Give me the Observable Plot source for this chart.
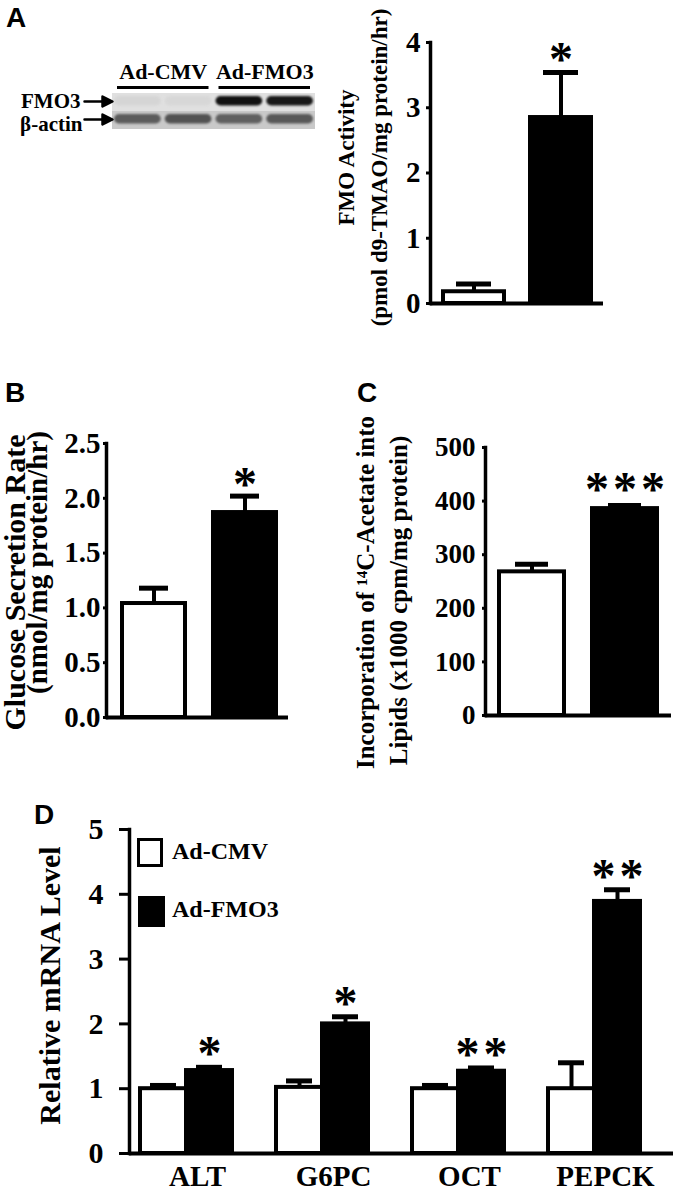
<!DOCTYPE html>
<html>
<head>
<meta charset="utf-8">
<script src="https://cdn.jsdelivr.net/npm/d3@7"></script>
<script src="https://cdn.jsdelivr.net/npm/@observablehq/plot@0.6"></script>
<style>
  body { margin: 0; background: #fff; }
  #fig { position: relative; width: 677px; height: 1190px; overflow: hidden; background: #fff;
         font-family: 'Liberation Serif', 'Times New Roman', serif; font-weight: bold; color: #000; }
  .letter { position: absolute; font-family: 'Liberation Sans', Arial, sans-serif; font-weight: bold;
            font-size: 28px; line-height: 1; }
  .leg { position: absolute; font-size: 24px; line-height: 1; white-space: nowrap; }
  .box { position: absolute; box-sizing: border-box; }
</style>
</head>
<body>
<div id="fig"></div>
<script>
// ---------------- data ----------------
const groups = ["Ad-CMV", "Ad-FMO3"];

// Panel A: western blot (relative band intensity, 0 = blank, 1 = saturated)
const blotProteins = ["FMO3", "β-actin"];
const blotLanes = [0, 1, 2, 3];
const blotFMO3 = [0.05, 0.04, 0.97, 0.94];
const blotActin = [0.62, 0.66, 0.60, 0.64];
const blotGroupStart = [0, 2];
const blotGroupEnd = [2, 4];

// Panel A: FMO activity
const fmoTicks = [0, 1, 2, 3, 4];
const fmoMean = [0.18, 2.85];
const fmoSem = [0.12, 0.69];
const fmoSig = ["", "*"];

// Panel B: glucose secretion
const glucoseTicks = [0, 0.5, 1.0, 1.5, 2.0, 2.5];
const glucoseMean = [1.04, 1.87];
const glucoseSem = [0.14, 0.15];
const glucoseSig = ["", "*"];

// Panel C: 14C-acetate incorporation
const acetateTicks = [0, 100, 200, 300, 400, 500];
const acetateMean = [268, 386];
const acetateSem = [14, 6];
const acetateSig = ["", "***"];

// Panel D: relative mRNA
const genes = ["ALT", "G6PC", "OCT", "PEPCK"];
const mrnaTicks = [0, 1, 2, 3, 4, 5];
const mrnaCMV = [1.0, 1.02, 1.0, 1.0];
const mrnaCMVSem = [0.05, 0.10, 0.05, 0.40];
const mrnaFMO3 = [1.28, 2.0, 1.27, 3.89];
const mrnaFMO3Sem = [0.05, 0.11, 0.05, 0.18];
const mrnaSig = ["*", "*", "**", "**"];

// ---------------- helpers ----------------
const SERIF = "'Liberation Serif', 'Times New Roman', serif";
const fig = document.getElementById("fig");
const baseStyle = {fontFamily: SERIF, fontWeight: "bold", color: "black", background: "transparent", overflow: "visible"};
const stars = s => s.split("").join("\u200A");
const STAR_SIZE = 48;

function place(el, left, top) {
  el.style.position = "absolute";
  el.style.left = left + "px";
  el.style.top = top + "px";
  fig.appendChild(el);
  return el;
}
function html(tag, cls, text, css) {
  const el = document.createElement(tag);
  el.className = cls;
  if (text) el.textContent = text;
  Object.assign(el.style, css);
  fig.appendChild(el);
  return el;
}

function twoBarPanel(cfg) {
  const rows = groups.map((g, i) => ({group: g, mean: cfg.mean[i], sem: cfg.sem[i], sig: cfg.sig[i]}));
  return Plot.plot({
    width: cfg.width, height: cfg.height,
    marginLeft: cfg.mL, marginRight: cfg.mR, marginTop: cfg.mT, marginBottom: cfg.mB,
    style: baseStyle,
    x: {domain: groups, axis: null, paddingInner: cfg.padIn, paddingOuter: cfg.padOut, align: cfg.align ?? 0.5},
    y: {domain: [0, d3.max(cfg.ticks)], axis: null},
    color: {domain: groups, range: ["white", "black"]},
    marks: [
      Plot.barY(rows, {x: "group", y: "mean", fill: "group", stroke: "black", strokeWidth: 4}),
      Plot.ruleX(rows, {x: "group", y1: "mean", y2: d => d.mean + d.sem, strokeWidth: 4}),
      Plot.tickY(rows, {x: "group", y: d => d.mean + d.sem, strokeWidth: 5, inset: cfg.capInset}),
      Plot.text(rows.filter(d => d.sig), {x: "group", y: d => d.mean + d.sem, text: d => stars(d.sig),
        fontSize: STAR_SIZE, lineAnchor: "bottom", dy: cfg.starDy}),
      Plot.ruleY([0], {strokeWidth: 4}),
      Plot.frame({anchor: "left", strokeWidth: 3.5}),
      Plot.axisY({ticks: cfg.ticks, tickFormat: cfg.fmt, tickSize: cfg.tickSize, tickPadding: cfg.tickPadding,
        fontSize: cfg.tickFont, strokeWidth: 3, label: null}),
      ...cfg.labels.map(l => Plot.text([l.text], {text: d => d, frameAnchor: "left", textAnchor: "middle",
        rotate: -90, fontSize: l.size, dx: l.dx, dy: l.dy}))
    ]
  });
}

// ---------------- Panel A: blot ----------------
const blotRows = blotProteins.flatMap((p, r) =>
  blotLanes.map((lane, i) => ({protein: p, lane, intensity: (r === 0 ? blotFMO3 : blotActin)[i]})));
const blotGroupRows = groups.map((g, i) => ({name: g, from: blotGroupStart[i], to: blotGroupEnd[i]}));
const arrowShape = {
  draw(ctx, l) {
    const h = 10, w = 5;
    ctx.moveTo(0, 0);
    ctx.lineTo(0, -l + h);
    ctx.moveTo(-w, -l + h);
    ctx.lineTo(0, -l);
    ctx.lineTo(w, -l + h);
    ctx.closePath();
  }
};
const blot = Plot.plot({
  width: 315, height: 84, marginLeft: 112, marginRight: 0, marginTop: 18, marginBottom: 10,
  style: baseStyle,
  x: {domain: [0, blotLanes.length], axis: null},
  y: {domain: ["header", ...blotProteins], axis: null, paddingInner: 0, paddingOuter: 0},
  color: {type: "linear", domain: [0, 1], range: ["#e0e0e0", "#0b0b0b"]},
  marks: [
    Plot.barX(blotProteins, {x1: () => 0, x2: () => blotLanes.length, y: d => d,
      fill: d => d === "FMO3" ? "#e0e0e0" : "#c9c9c9"}),
    Plot.barX(blotRows, {x1: "lane", x2: d => d.lane + 1, y: "protein", fill: "intensity",
      insetLeft: 2, insetRight: 2, insetTop: 3, insetBottom: 5.5, rx: 5}),
    Plot.ruleY(blotGroupRows, {x1: "from", x2: "to", y: () => "header", dy: 3, insetLeft: 5, insetRight: 5, strokeWidth: 3}),
    Plot.text(blotGroupRows, {x: d => (d.from + d.to) / 2, y: () => "header", text: "name",
      lineAnchor: "bottom", dy: -6, fontSize: 22}),
    Plot.vector(blotProteins, {y: d => d, frameAnchor: "left", rotate: 90, length: 28, anchor: "end",
      shape: arrowShape, fill: "black", stroke: "black", strokeWidth: 2.5, dy: -1}),
    Plot.text(blotProteins.slice(0, 1), {y: d => d, text: d => d, frameAnchor: "left", textAnchor: "end",
      dx: -32, dy: -1.5, fontSize: 21}),
    Plot.text(blotProteins.slice(1), {y: d => d, text: d => d, frameAnchor: "left", textAnchor: "end",
      dx: -30, dy: 3.5, fontSize: 21})
  ]
});
place(blot, 0, 56);
{
  const bars = blot.querySelectorAll('g[aria-label="bar"]');
  if (bars.length > 1) bars[1].style.filter = "blur(1.2px)";
  if (bars.length > 0) bars[0].style.filter = "blur(0.6px)";
}

// ---------------- Panel A: FMO activity ----------------
place(twoBarPanel({
  mean: fmoMean, sem: fmoSem, sig: fmoSig, ticks: fmoTicks, fmt: d => d,
  width: 290, height: 345, mL: 100, mR: 17, mT: 42, mB: 42,
  padIn: 0.3, padOut: 0.14, tickSize: 4, tickPadding: 6, tickFont: 29, capInset: 13, starDy: 2,
  labels: [
    {text: "FMO Activity", size: 23, dx: -84, dy: -15.5},
    {text: "(pmol d9-TMAO/mg protein/hr)", size: 23, dx: -50.4, dy: -5.5}
  ]
}), 330, 0);

// ---------------- Panel B ----------------
place(twoBarPanel({
  mean: glucoseMean, sem: glucoseSem, sig: glucoseSig, ticks: glucoseTicks, fmt: d3.format(".1f"),
  width: 300, height: 385, mL: 106, mR: 12, mT: 63, mB: 48,
  padIn: 0.31, padOut: 0.155, align: 0.57, tickSize: 3, tickPadding: 3, tickFont: 29, capInset: 17, starDy: 4,
  labels: [
    {text: "Glucose Secretion Rate", size: 30, dx: -91.5, dy: 2},
    {text: "(nmol/mg protein/hr)", size: 29, dx: -68.5, dy: -18}
  ]
}), 0, 380);

// ---------------- Panel C ----------------
place(twoBarPanel({
  mean: acetateMean, sem: acetateSem, sig: acetateSig, ticks: acetateTicks, fmt: d => d,
  width: 337, height: 385, mL: 145, mR: 6, mT: 67, mB: 50,
  padIn: 0.3, padOut: 0.15, tickSize: 3, tickPadding: 7, tickFont: 27, capInset: 16, starDy: 0,
  labels: [
    {text: "Incorporation of ¹⁴C-Acetate into", size: 25, dx: -120, dy: 11},
    {text: "Lipids (x1000 cpm/mg protein)", size: 25, dx: -87, dy: 19}
  ]
}), 340, 380);

// ---------------- Panel D ----------------
const mrnaRows = genes.flatMap((g, i) => [
  {gene: g, group: groups[0], mean: mrnaCMV[i], sem: mrnaCMVSem[i], sig: ""},
  {gene: g, group: groups[1], mean: mrnaFMO3[i], sem: mrnaFMO3Sem[i], sig: mrnaSig[i]}
]);
const panelD = Plot.plot({
  width: 677, height: 395, marginLeft: 128, marginRight: 4, marginTop: 29, marginBottom: 42,
  style: baseStyle,
  fx: {domain: genes, paddingInner: 0, paddingOuter: 0, label: null},
  x: {domain: groups, axis: null, paddingInner: 0, paddingOuter: 0.465, align: 0.254},
  y: {domain: [0, d3.max(mrnaTicks)], axis: null},
  color: {domain: groups, range: ["white", "black"]},
  marks: [
    Plot.barY(mrnaRows, {fx: "gene", x: "group", y: "mean", fill: "group", stroke: "black", strokeWidth: 4}),
    Plot.ruleX(mrnaRows, {fx: "gene", x: "group", y1: "mean", y2: d => d.mean + d.sem, strokeWidth: 4}),
    Plot.tickY(mrnaRows, {fx: "gene", x: "group", y: d => d.mean + d.sem, strokeWidth: 5, inset: 10}),
    Plot.text(mrnaRows.filter(d => d.sig), {fx: "gene", x: "group", y: d => d.mean + d.sem,
      text: d => stars(d.sig), fontSize: STAR_SIZE, lineAnchor: "bottom", dy: 2}),
    Plot.ruleY([0], {strokeWidth: 4}),
    Plot.frame({anchor: "left", facetAnchor: "left", strokeWidth: 3.5}),
    Plot.axisY({ticks: mrnaTicks, tickFormat: d => d, tickSize: 10, tickPadding: 16, fontSize: 30, strokeWidth: 3, label: null}),
    Plot.axisFx({anchor: "bottom", tickSize: 0, tickPadding: 12, fontSize: 29, label: null}),
    Plot.text(["Relative mRNA Level"], {text: d => d, frameAnchor: "left", facetAnchor: "left", textAnchor: "middle",
      rotate: -90, fontSize: 30, dx: -79.6, dy: -6})
  ]
});
place(panelD, 0, 800);

// legend for panel D
html("div", "box", "", {left: "137px", top: "838px", width: "26px", height: "29px", border: "3px solid #000", background: "#fff"});
html("div", "box", "", {left: "138px", top: "896px", width: "27px", height: "31px", background: "#000"});
html("div", "leg", groups[0], {left: "172px", top: "839px"});
html("div", "leg", groups[1], {left: "172px", top: "897px"});

// ---------------- panel letters ----------------
html("div", "letter", "A", {left: "6px", top: "4px"});
html("div", "letter", "B", {left: "5px", top: "378.5px"});
html("div", "letter", "C", {left: "357px", top: "378.5px"});
html("div", "letter", "D", {left: "34px", top: "801px"});
</script>
</body>
</html>
